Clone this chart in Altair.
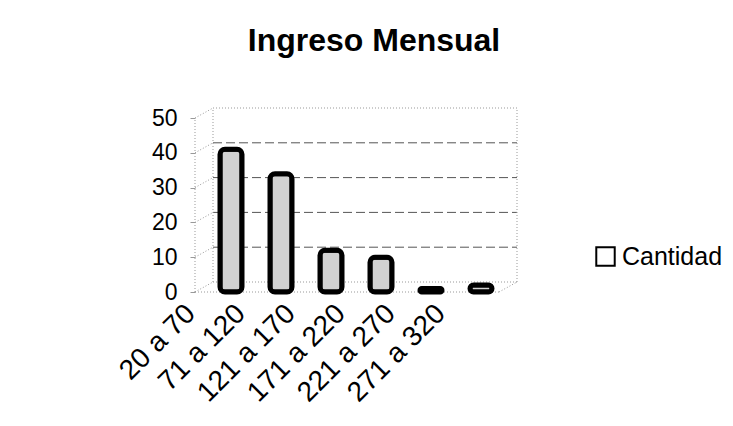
import altair as alt
import pandas as pd

categories = ["20 a 70", "71 a 120", "121 a 170", "171 a 220", "221 a 270", "271 a 320"]
values = [41, 34, 12, 10, 1, 2]
series_name = "Cantidad"
grid_values = [10, 20, 30, 40]
wall_values = [0, 50]
y_ticks = [0, 10, 20, 30, 40, 50]
title_text = "Ingreso Mensual"

FONT = "Liberation Sans"
W, H = 322, 174
DX, DY = 18, -10

df = pd.DataFrame({"rango": categories, "cantidad": values, "serie": [series_name] * len(values)})
legend_df = pd.DataFrame({"serie": [series_name]})
grid_df = pd.DataFrame({"v": grid_values})
wall_df = pd.DataFrame({"v": wall_values})
all_df = pd.DataFrame({"v": wall_values + grid_values})
edge_df = pd.DataFrame({"lo": [0], "hi": [50]})

yscale = alt.Scale(domain=[0, 50])
yaxis = alt.Axis(values=y_ticks, labelFont=FONT, labelFontSize=23,
                 labelColor="black", labelPadding=13, tickSize=5, tickColor="#999",
                 domain=False, grid=False, labelOverlap=False)


def Y(field):
    return alt.Y(field, scale=yscale, title=None, axis=yaxis)


bars = alt.Chart(df).mark_bar(fill="#d2d2d2", stroke="black", strokeWidth=5,
                              cornerRadius=5).encode(
    x=alt.X("rango:N", sort=categories, title=None,
            scale=alt.Scale(paddingInner=0.56, paddingOuter=0.5),
            axis=alt.Axis(labelAngle=-45, labelAlign="right", labelBaseline="middle",
                          labelFont=FONT, labelFontSize=28, labelColor="black",
                          labelOffset=-40, labelPadding=17, ticks=False, domain=False,
                          grid=False, labelOverlap=False)),
    y=Y("cantidad:Q"),
)

legend_layer = alt.Chart(legend_df).mark_point(
    shape="square", filled=False, opacity=0, size=340, strokeWidth=2
).encode(
    x=alt.value(0), y=alt.value(0),
    stroke=alt.Stroke("serie:N", scale=alt.Scale(range=["black"]),
                      legend=alt.Legend(title=None, orient="none", legendX=398, legendY=126,
                                        symbolType="square", symbolSize=340,
                                        symbolFillColor="white", symbolStrokeColor="black",
                                        symbolStrokeWidth=2, symbolOpacity=1,
                                        labelFont=FONT, labelFontSize=25, labelColor="black",
                                        labelOffset=4)),
)

back_grid = alt.Chart(grid_df).mark_rule(yOffset=DY, color="#555", strokeWidth=1,
                                          strokeDash=[9, 4]).encode(
    x=alt.value(DX), x2=alt.value(W), y=Y("v:Q"))

back_wall = alt.Chart(wall_df).mark_rule(yOffset=DY, color="#999", strokeWidth=1,
                                          strokeDash=[1, 2]).encode(
    x=alt.value(DX), x2=alt.value(W), y=Y("v:Q"))

side = alt.Chart(all_df).mark_rule(y2Offset=DY, color="#999", strokeWidth=1,
                                    strokeDash=[1, 2]).encode(
    x=alt.value(0), x2=alt.value(DX), y=Y("v:Q"), y2="v:Q")

edges = alt.Chart(edge_df).mark_rule(color="#999", strokeWidth=1, strokeDash=[1, 2]).encode(
    x=alt.value(0), y=Y("lo:Q"), y2="hi:Q")

back_edge = alt.Chart(edge_df).mark_rule(yOffset=DY, y2Offset=DY, color="#999", strokeWidth=1,
                                          strokeDash=[1, 2]).encode(
    x=alt.value(DX), y=Y("lo:Q"), y2="hi:Q")

right_edge = alt.Chart(edge_df).mark_rule(yOffset=DY, y2Offset=DY, color="#999", strokeWidth=1,
                                           strokeDash=[1, 2]).encode(
    x=alt.value(W), y=Y("lo:Q"), y2="hi:Q")

floor_front = alt.Chart(edge_df).mark_rule(color="#999", strokeWidth=1, strokeDash=[1, 2]).encode(
    x=alt.value(0), x2=alt.value(W - DX), y=Y("lo:Q"))

floor_side = alt.Chart(edge_df).mark_rule(y2Offset=DY, color="#999", strokeWidth=1,
                                           strokeDash=[1, 2]).encode(
    x=alt.value(W - DX), x2=alt.value(W), y=Y("lo:Q"), y2="lo:Q")

chart = alt.layer(
    back_wall, back_grid, side, edges, back_edge, right_edge, floor_front, floor_side, bars,
    legend_layer
).properties(
    width=W, height=H,
    padding={"left": 187, "top": 110, "right": 208, "bottom": 126},
    autosize=alt.AutoSizeParams(type="none"),
    title=alt.TitleParams(title_text, font=FONT, fontSize=32, fontWeight="bold",
                          color="black", anchor="middle", dx=18, offset=49),
    background="white",
).configure_view(stroke=None)

chart.save("out.html", embed_options={"renderer": "svg", "actions": False})
